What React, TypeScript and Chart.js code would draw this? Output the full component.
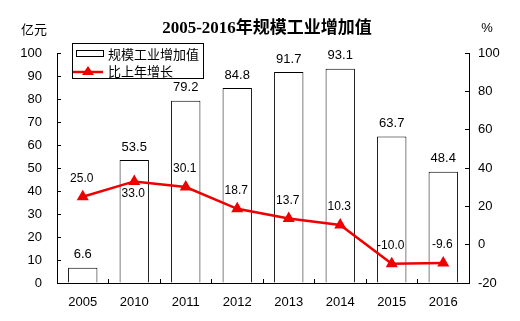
import React, { useEffect, useRef } from "react";
import { Chart, registerables } from "chart.js";

Chart.register(...registerables);

const categories = ["2005", "2010", "2011", "2012", "2013", "2014", "2015", "2016"];
const valueAdded = [6.6, 53.5, 79.2, 84.8, 91.7, 93.1, 63.7, 48.4];
const growth = [25.0, 33.0, 30.1, 18.7, 13.7, 10.3, -10.0, -9.6];
const growthLabelBelow = [false, true, false, false, false, false, false, false];
const titleText = "2005-2016年规模工业增加值";
const leftUnit = "亿元";
const rightUnit = "%";
const barLabel = "规模工业增加值";
const lineLabel = "比上年增长";

const RED = "#ee0000";
const SANS = "'Liberation Sans', Arial, 'Noto Sans CJK SC', sans-serif";
const CJK = "'Noto Sans CJK SC', 'Liberation Sans', sans-serif";

const decorPlugin = {
  id: "decor",
  afterDatasetsDraw(chart: any) {
    const ctx = chart.ctx;
    ctx.save();
    // bar value labels
    const barMeta = chart.getDatasetMeta(1);
    ctx.fillStyle = "#000";
    ctx.font = `13px ${SANS}`;
    ctx.textAlign = "center";
    ctx.textBaseline = "middle";
    barMeta.data.forEach((el: any, i: number) => {
      ctx.fillText(valueAdded[i].toFixed(1), el.x, el.y - 13);
    });
    // line value labels
    const lineMeta = chart.getDatasetMeta(0);
    ctx.font = `12px ${SANS}`;
    lineMeta.data.forEach((el: any, i: number) => {
      const dy = growthLabelBelow[i] ? 12 : -18;
      ctx.fillText(growth[i].toFixed(1), el.x - 1, el.y + dy);
    });
    ctx.restore();
  },
  afterDraw(chart: any) {
    const ctx = chart.ctx;
    const area = chart.chartArea;
    ctx.save();
    // title
    ctx.fillStyle = "#000";
    ctx.textAlign = "center";
    ctx.textBaseline = "middle";
    ctx.font = `bold 17px 'Liberation Serif', 'Noto Sans CJK SC', serif`;
    ctx.fillText(titleText, 267, 29);
    // units
    ctx.font = `13px ${CJK}`;
    ctx.fillText(leftUnit, 34, 29);
    ctx.font = `13px ${SANS}`;
    ctx.fillText(rightUnit, 487, 28);
    // legend
    const lx = area.left + 15;
    const ly = area.top - 10;
    ctx.strokeStyle = "#000";
    ctx.lineWidth = 1;
    ctx.strokeRect(lx + 0.5, ly + 0.5, 131, 35);
    // bar symbol
    ctx.fillStyle = "#fff";
    ctx.fillRect(lx + 4.5, ly + 7.5, 27, 6);
    ctx.strokeRect(lx + 4.5, ly + 7.5, 27, 6);
    // line symbol
    ctx.strokeStyle = RED;
    ctx.lineWidth = 2.5;
    ctx.beginPath();
    ctx.moveTo(lx + 1, ly + 29);
    ctx.lineTo(lx + 31, ly + 29);
    ctx.stroke();
    ctx.fillStyle = RED;
    ctx.beginPath();
    ctx.moveTo(lx + 16, ly + 23);
    ctx.lineTo(lx + 22, ly + 32);
    ctx.lineTo(lx + 10, ly + 32);
    ctx.closePath();
    ctx.fill();
    ctx.fillStyle = "#000";
    ctx.textAlign = "left";
    ctx.font = `13px ${CJK}`;
    ctx.fillText(barLabel, lx + 36, ly + 11);
    ctx.fillText(lineLabel, lx + 36, ly + 28);
    ctx.restore();
  },
};

export default function App() {
  const ref = useRef<HTMLCanvasElement>(null);
  useEffect(() => {
    document.body.style.margin = "0";
    const canvas = ref.current!;
    const chart = new Chart(canvas, {
      type: "bar",
      data: {
        labels: categories,
        datasets: [
          {
            type: "line",
            label: lineLabel,
            data: growth,
            yAxisID: "y1",
            borderColor: RED,
            backgroundColor: RED,
            borderWidth: 2.5,
            pointStyle: "triangle",
            pointRadius: 7,
            pointBackgroundColor: RED,
            pointBorderColor: RED,
            pointBorderWidth: 0,
            tension: 0,
            order: 0,
          } as any,
          {
            type: "bar",
            label: barLabel,
            data: valueAdded,
            yAxisID: "y",
            backgroundColor: "#fff",
            borderColor: "#000",
            borderWidth: 1,
            barPercentage: 0.57,
            categoryPercentage: 1,
            order: 1,
          },
        ],
      },
      options: {
        responsive: false,
        animation: false,
        devicePixelRatio: 1,
        layout: { padding: { top: 53, left: 0, right: 0, bottom: 0 } },
        plugins: {
          legend: { display: false },
          title: { display: false },
          tooltip: { enabled: false },
        },
        scales: {
          x: {
            type: "category",
            offset: true,
            grid: {
              display: true,
              offset: true,
              drawOnChartArea: false,
              drawTicks: true,
              tickLength: -4,
              color: "#000",
            },
            border: { display: true, color: "#000", width: 1 },
            ticks: { color: "#000", font: { size: 13, family: SANS }, padding: 16 },
            afterFit(scale: any) {
              scale.height = 38;
            },
          },
          y: {
            position: "left",
            min: 0,
            max: 100,
            ticks: { stepSize: 10, color: "#000", font: { size: 13, family: SANS }, padding: 19 },
            grid: {
              display: true,
              drawOnChartArea: false,
              drawTicks: true,
              tickLength: -4,
              color: "#000",
            },
            border: { display: true, color: "#000", width: 1 },
            afterFit(scale: any) {
              scale.width = 57;
            },
          },
          y1: {
            position: "right",
            min: -20,
            max: 100,
            ticks: { stepSize: 20, color: "#000", font: { size: 13, family: SANS }, padding: 13 },
            grid: {
              display: true,
              drawOnChartArea: false,
              drawTicks: true,
              tickLength: -4,
              color: "#000",
            },
            border: { display: true, color: "#000", width: 1 },
            afterFit(scale: any) {
              scale.width = 51;
            },
          },
        },
      } as any,
      plugins: [decorPlugin],
    });
    return () => chart.destroy();
  }, []);
  return (
    <div style={{ width: 520, height: 321 }}>
      <canvas ref={ref} width={520} height={321} style={{ display: "block" }} />
    </div>
  );
}
